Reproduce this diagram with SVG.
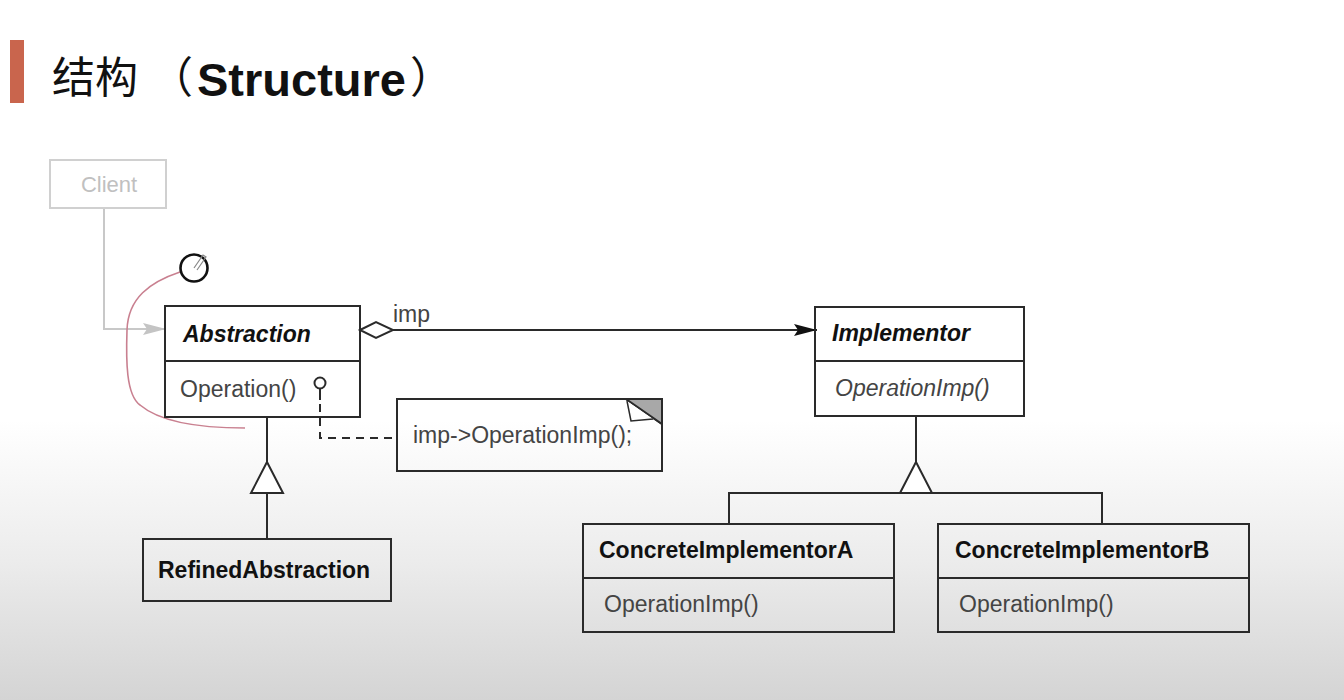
<svg xmlns="http://www.w3.org/2000/svg" width="1344" height="700" viewBox="0 0 1344 700">
  <defs>
    <linearGradient id="bg" x1="0" y1="0" x2="0" y2="1">
      <stop offset="0" stop-color="#ffffff"/>
      <stop offset="0.6" stop-color="#ffffff"/>
      <stop offset="0.8" stop-color="#ececec"/>
      <stop offset="1" stop-color="#d4d4d4"/>
    </linearGradient>
    <marker id="solidArrow" viewBox="0 0 24 14" refX="23" refY="7" markerWidth="24" markerHeight="14" markerUnits="userSpaceOnUse" orient="auto">
      <path d="M0,1 L23,7 L0,13 L4,7 Z" fill="#111"/>
    </marker>
    <marker id="grayArrow" viewBox="0 0 24 14" refX="23" refY="7" markerWidth="24" markerHeight="14" markerUnits="userSpaceOnUse" orient="auto">
      <path d="M0,1 L23,7 L0,13 L4,7 Z" fill="#c4c4c4"/>
    </marker>
  </defs>
  <style>
    .box { fill: none; stroke: #2a2a2a; stroke-width: 2; }
    .line { fill: none; stroke: #2a2a2a; stroke-width: 2; }
    .name { font-family: "Liberation Sans", Arial, sans-serif; font-size: 23px; font-weight: bold; fill: #111; }
    .abs { font-style: italic; }
    .op { font-family: "Liberation Sans", Arial, sans-serif; font-size: 23px; fill: #444; }
    .title { font-family: "Noto Sans CJK SC", sans-serif; font-size: 43px; fill: #111; }
  </style>
  <rect x="0" y="0" width="1344" height="700" fill="url(#bg)"/>

  <g id="title">
    <rect x="10" y="40" width="14" height="63" fill="#c9654d"/>
    <text class="title" x="52" y="93">结构</text>
    <text class="title" x="150" y="93">（</text>
    <text x="197" y="96" font-family="Liberation Sans, Arial, sans-serif" font-size="47" font-weight="bold" fill="#111">Structure</text>
    <text class="title" x="410" y="93">）</text>
  </g>

  <g id="connectors">
    <!-- Client to Abstraction -->
    <path d="M104,208 L104,329 L166,329" fill="none" stroke="#c8c8c8" stroke-width="2" marker-end="url(#grayArrow)"/>
    <!-- aggregation imp -->
    <path d="M360,330 L376,322 L393,330 L376,338 Z" fill="#fff" stroke="#2a2a2a" stroke-width="2"/>
    <line class="line" x1="393" y1="330" x2="817" y2="330" marker-end="url(#solidArrow)"/>
    <text class="op" x="393" y="322">imp</text>
    <!-- lollipop note link -->
    <circle cx="320" cy="383" r="5.5" fill="#fff" stroke="#2a2a2a" stroke-width="2"/>
    <line class="line" x1="320" y1="388.5" x2="320" y2="400"/>
    <path d="M320,404 L320,438 L397,438" fill="none" stroke="#2a2a2a" stroke-width="2" stroke-dasharray="8,6"/>
    <!-- Abstraction generalization -->
    <line class="line" x1="267" y1="417" x2="267" y2="462"/>
    <path d="M267,462 L283,493 L251,493 Z" fill="#fff" stroke="#2a2a2a" stroke-width="2"/>
    <line class="line" x1="267" y1="493" x2="267" y2="539"/>
    <!-- Implementor generalization -->
    <line class="line" x1="916" y1="416" x2="916" y2="462"/>
    <path d="M916,462 L932,493 L900,493 Z" fill="#fff" stroke="#2a2a2a" stroke-width="2"/>
    <path class="line" d="M729,524 L729,493 L1102,493 L1102,524"/>
    <!-- pink annotation curve -->
    <path d="M180,272 C150,282 128,298 127,330 C126,360 126,395 140,405 C160,422 200,428 245,428" fill="none" stroke="#c98090" stroke-width="1.6"/>
  </g>

  <g id="client">
    <rect x="50" y="160" width="116" height="48" fill="none" stroke="#d0d0d0" stroke-width="2"/>
    <text x="109" y="192" text-anchor="middle" font-family="Liberation Sans, Arial, sans-serif" font-size="22" fill="#c0c0c0">Client</text>
  </g>

  <g id="cursor">
    <circle cx="194" cy="268" r="13.5" fill="none" stroke="#111" stroke-width="2.6"/>
    <path d="M194,268 L203,255 L206,257 L197,270" fill="none" stroke="#888" stroke-width="1.2"/>
  </g>

  <g id="abstraction">
    <rect class="box" x="165" y="306" width="195" height="111"/>
    <line class="line" x1="165" y1="361" x2="360" y2="361"/>
    <text class="name abs" x="183" y="342">Abstraction</text>
    <text class="op" x="180" y="397">Operation()</text>
  </g>

  <g id="note">
    <path d="M397,399 L626,399 L662,424 L662,471 L397,471 Z" fill="none" stroke="#2a2a2a" stroke-width="2"/>
    <path d="M626,399 L662,399 L662,424 Z" fill="#a8a8a8" stroke="#2a2a2a" stroke-width="2"/>
    <path d="M627,401 L631,421 L653,419" fill="#fff" stroke="#2a2a2a" stroke-width="1.5"/>
    <text class="op" x="413" y="443">imp-&gt;OperationImp();</text>
  </g>

  <g id="implementor">
    <rect class="box" x="815" y="307" width="209" height="109"/>
    <line class="line" x1="815" y1="361" x2="1024" y2="361"/>
    <text class="name abs" x="832" y="341">Implementor</text>
    <text class="op abs" x="835" y="396">OperationImp()</text>
  </g>

  <g id="refinedAbstraction">
    <rect class="box" x="143" y="539" width="248" height="62"/>
    <text class="name" x="158" y="578">RefinedAbstraction</text>
  </g>

  <g id="concreteImplementorA">
    <rect class="box" x="583" y="524" width="311" height="108"/>
    <line class="line" x1="583" y1="578" x2="894" y2="578"/>
    <text class="name" x="599" y="558">ConcreteImplementorA</text>
    <text class="op" x="604" y="612">OperationImp()</text>
  </g>

  <g id="concreteImplementorB">
    <rect class="box" x="938" y="524" width="311" height="108"/>
    <line class="line" x1="938" y1="578" x2="1249" y2="578"/>
    <text class="name" x="955" y="558">ConcreteImplementorB</text>
    <text class="op" x="959" y="612">OperationImp()</text>
  </g>
</svg>
